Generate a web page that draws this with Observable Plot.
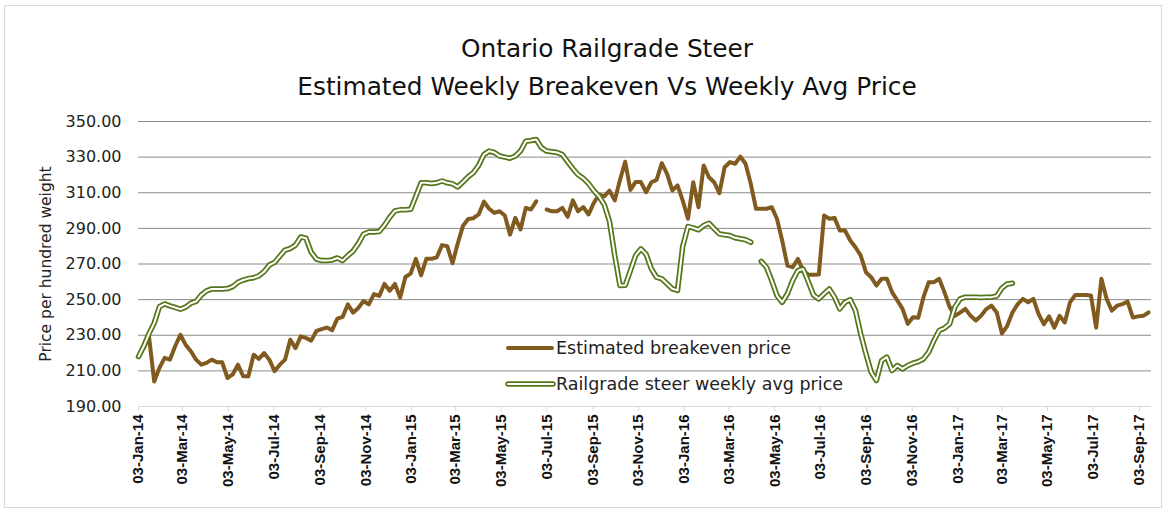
<!DOCTYPE html>
<html>
<head>
<meta charset="utf-8">
<script src="https://cdn.jsdelivr.net/npm/d3@7"></script>
<script src="https://cdn.jsdelivr.net/npm/@observablehq/plot@0.6"></script>
<style>
  html, body { margin: 0; padding: 0; background: #fff; }
  #wrap { position: relative; width: 1166px; height: 512px; overflow: hidden; font-family: "DejaVu Sans", sans-serif; }
  #frame { position: absolute; left: 4px; top: 5px; width: 1158px; height: 503px; border: 1px solid #d9d9d9; box-sizing: border-box; }
  #title { position: absolute; left: 0; top: 30px; width: 1166px; box-sizing: border-box; padding-left: 48px; text-align: center; font-size: 24.8px; line-height: 38px; color: #111; }
  #chart { position: absolute; left: 0; top: 0; }
</style>
</head>
<body>
<div id="wrap">
  <div id="frame"></div>
  <div id="chart"></div>
  <div id="title">Ontario Railgrade Steer<br>Estimated Weekly Breakeven Vs Weekly Avg Price</div>
</div>
<script>
// Weekly series starting 03-Jan-2014 (one value per week; null = no data)
const firstWeek = "2014-01-03";

const breakeven = [
  218, 222.8, 229.4, 204, 211.7, 217.3, 216.3, 223.8, 230.3, 224.7,
  221, 216.3, 213.5, 214.5, 216.3, 214.8, 214.8, 206, 208, 213.5,
  207, 207, 219.1, 216.7, 220, 216.3, 209.8, 213.5, 216.3, 227.5,
  222.8, 229.4, 228.5, 227, 232.4, 233.4, 234.3, 232.8, 239.3, 240.3,
  247.3, 242.7, 245.3, 249.2, 247.3, 253.1, 252.1, 258.8, 255, 258.8,
  251.2, 262.7, 264.6, 272.9, 263.6, 272.9, 272.9, 273.8, 280.6, 280,
  270.4, 281.5, 291.4, 295.3, 295.7, 297.8, 305, 301, 298.7, 299.6,
  297.2, 286.5, 295.9, 289.4, 301.5, 300.6, 305.2, null, 300.6, 299.6,
  299.6, 301.5, 296.5, 305.7, 299.6, 302, 297.8, 304.3, 308.9, 308,
  311.2, 305.7, 317.1, 327.4, 311.6, 316.1, 316, 310.3, 315.9, 317.2,
  326.6, 320.6, 311.3, 314.1, 305.6, 295.4, 315.9, 301.9, 325.3, 318.7,
  315.9, 309.8, 324.3, 327.2, 326.3, 330.3, 326.3, 315, 301, 301,
  301, 301.9, 295.4, 283.2, 269.1, 268.2, 272.9, 266.3, 263.9, 264,
  264.1, 297.2, 295.4, 295.9, 288.8, 288.8, 283.2, 279.4, 274.8, 265.4,
  262.6, 257.9, 261.7, 261.7, 254.2, 249.5, 244.8, 236.4, 240.1, 239.8,
  251.4, 259.8, 259.8, 261.7, 254.2, 245.8, 240.9, 242.7, 244.8, 240.9,
  238.3, 241, 244.7, 246.6, 242.8, 231, 235.3, 242.8, 247.5, 250.4,
  248.5, 250.4, 241.9, 236.2, 240.6, 234.3, 240.9, 237.2, 248.5, 252.6,
  252.6, 252.6, 252.3, 234.3, 261.7, 250.4, 243.8, 246.6, 247.5, 248.9,
  240, 240.6, 240.9, 242.8
];

const railgrade = [
  218, 223.8, 230.9, 236.8, 246, 247.6, 246.5, 245.6, 244.6, 245.8,
  248, 249, 252.6, 254.9, 256, 256, 256, 256.2, 257.3, 259.7,
  261, 261.8, 262.3, 263.4, 265.7, 269.4, 270.9, 274.4, 277.8, 278.7,
  280.6, 285.2, 284.5, 276.6, 272.8, 271.9, 271.9, 272.3, 273.4, 271.9,
  274.7, 277.2, 281.4, 286.7, 288, 288, 288.2, 291.8, 296.2, 299.8,
  300.4, 300.4, 300.7, 308, 315.6, 315.6, 315.2, 315.6, 316.6, 315.6,
  315, 313.3, 316, 319, 321.3, 325.4, 331.4, 333.4, 332.6, 330.6,
  330, 329.4, 330.6, 333.4, 338.9, 339.3, 339.9, 335.3, 333.4, 333,
  332.6, 331.4, 327.4, 323.5, 320.1, 318.1, 315.1, 311.2, 308, 303.3,
  294, 274.8, 257.9, 258, 266.3, 274.8, 278.5, 275.5, 267.3, 262.6,
  261.7, 258.9, 256.1, 255.2, 280, 291, 290.3, 289.2, 291.6, 292.9,
  289.8, 286.9, 286.4, 286, 284.7, 284.2, 283.6, 282.2, null, 271.5,
  268.2, 260.7, 252.3, 248.5, 253.3, 260.7, 266.3, 267.2, 260, 252.5,
  250.4, 253.3, 256, 251.4, 244.8, 248.5, 250, 243.9, 230.8, 219.6,
  209.3, 204.6, 215.8, 217.7, 210.2, 213, 211.1, 213, 214.3, 215.2,
  216.7, 220.5, 227, 232.7, 234, 236.4, 245.8, 250.4, 251.4, 251.4,
  251.4, 251.2, 251.4, 251.4, 252, 256.5, 258.8, 259.2
];

const yTicks = [190, 210, 230, 250, 270, 290, 310, 330, 350];
const xTickLabels = [
  "2014-01-03", "2014-03-03", "2014-05-03", "2014-07-03", "2014-09-03", "2014-11-03",
  "2015-01-03", "2015-03-03", "2015-05-03", "2015-07-03", "2015-09-03", "2015-11-03",
  "2016-01-03", "2016-03-03", "2016-05-03", "2016-07-03", "2016-09-03", "2016-11-03",
  "2017-01-03", "2017-03-03", "2017-05-03", "2017-07-03", "2017-09-03"
];
const seriesNames = ["Estimated breakeven price", "Railgrade steer weekly avg price"];
const yTitle = "Price per hundred weight";
const xDomainEnd = "2017-09-19";

const brown = "#805a1e";
const green = "#56761a";

const start = new Date(firstWeek);
const toRows = vals => vals.map((v, i) => ({ date: d3.utcDay.offset(start, 7 * i), value: v }));
const beRows = toRows(breakeven);
const rgRows = toRows(railgrade);
const tickDates = xTickLabels.map(s => new Date(s));

const chart = Plot.plot({
  width: 1166,
  height: 512,
  marginLeft: 138,
  marginRight: 15,
  marginTop: 121,
  marginBottom: 106,
  style: { fontFamily: "DejaVu Sans", background: "transparent", overflow: "visible" },
  x: { type: "utc", domain: [start, new Date(xDomainEnd)] },
  y: { domain: [190, 350] },
  marks: [
    Plot.ruleY(yTicks.filter(d => d > 190), { stroke: "#8a8a8a", strokeWidth: 1 }),
    Plot.ruleY([190], { stroke: "#d9d9d9", strokeWidth: 1 }),
    Plot.axisY({
      ticks: yTicks, tickFormat: d => d.toFixed(2), tickSize: 0, tickPadding: 17,
      fontSize: 16, fill: "#222", label: null
    }),
    Plot.axisX({
      ticks: tickDates, tickFormat: d3.utcFormat("%d-%b-%y"), tickRotate: -90,
      tickSize: 5, tickPadding: 3, stroke: "#d9d9d9", fill: "#111",
      fontSize: 15, fontWeight: "bold", fontFamily: "Liberation Sans", label: null
    }),
    Plot.text([yTitle], {
      frameAnchor: "left", dx: -92, rotate: -90, textAnchor: "middle", lineAnchor: "middle",
      fontSize: 15.5, fill: "#222"
    }),
    Plot.line(beRows, { x: "date", y: "value", stroke: brown, strokeWidth: 4, strokeLinejoin: "round", strokeLinecap: "round" }),
    Plot.line(rgRows, { x: "date", y: "value", stroke: green, strokeWidth: 5.5, strokeLinejoin: "round", strokeLinecap: "round" }),
    Plot.line(rgRows, { x: "date", y: "value", stroke: "#fff", strokeWidth: 2, strokeLinejoin: "round", strokeLinecap: "round" })
  ]
});

// Legend (inside the plot area)
const svg = d3.select(chart);
const lg = svg.append("g").attr("font-family", "DejaVu Sans").attr("font-size", 17.5)
  .attr("fill", "#222").attr("text-anchor", "start");
const rows = [
  { y: 348, kind: "be", name: seriesNames[0] },
  { y: 384, kind: "rg", name: seriesNames[1] }
];
rows.forEach(r => {
  if (r.kind === "be") {
    lg.append("line").attr("x1", 508).attr("x2", 552).attr("y1", r.y).attr("y2", r.y)
      .attr("stroke", brown).attr("stroke-width", 4).attr("stroke-linecap", "round");
  } else {
    lg.append("line").attr("x1", 508).attr("x2", 553).attr("y1", r.y).attr("y2", r.y)
      .attr("stroke", green).attr("stroke-width", 5.5).attr("stroke-linecap", "round");
    lg.append("line").attr("x1", 508).attr("x2", 553).attr("y1", r.y).attr("y2", r.y)
      .attr("stroke", "#fff").attr("stroke-width", 2).attr("stroke-linecap", "round");
  }
  lg.append("text").attr("x", 556).attr("y", r.y).attr("dy", "0.36em").attr("text-anchor", "start").text(r.name);
});

document.getElementById("chart").appendChild(chart);
</script>
</body>
</html>
